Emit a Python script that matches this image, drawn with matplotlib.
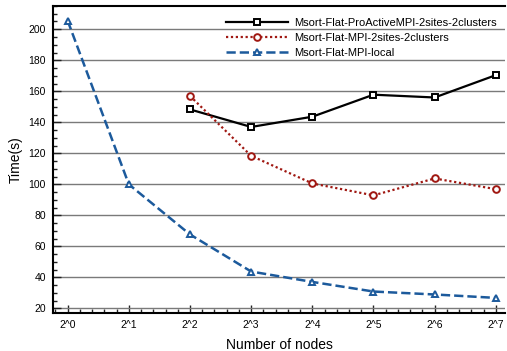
import numpy as np
import matplotlib
matplotlib.use('Agg')
import matplotlib.pyplot as plt
from matplotlib.ticker import MultipleLocator

plt.rcParams['font.family'] = ['Liberation Sans', 'DejaVu Sans']

# x positions are powers of two (exponent 0..7)
exps = [0, 1, 2, 3, 4, 5, 6, 7]
xlabels = ['2^0', '2^1', '2^2', '2^3', '2^4', '2^5', '2^6', '2^7']

proactive_x = [2, 3, 4, 5, 6, 7]
proactive = [148.3, 137, 143.6, 157.8, 156, 170.4]

mpi2_x = [2, 3, 4, 5, 6, 7]
mpi2 = [157, 118.4, 100.6, 92.9, 103.8, 96.9]

local_x = [0, 1, 2, 3, 4, 5, 6, 7]
local = [205.5, 100, 67.7, 43.8, 37.1, 30.9, 29, 26.8]

fig = plt.figure(figsize=(5.07, 3.51), dpi=100)
ax = fig.add_axes([0.1045, 0.108, 0.8915, 0.875])

ax.plot(proactive_x, proactive, color='black', linestyle='-', linewidth=1.6,
        marker='s', markersize=4.3, markerfacecolor='white', markeredgewidth=1.4,
        label='Msort-Flat-ProActiveMPI-2sites-2clusters', zorder=4)
ax.plot(mpi2_x, mpi2, color='#a01812', linestyle=(0, (1, 1.2)), linewidth=1.6,
        marker='o', markersize=4.8, markerfacecolor='white', markeredgewidth=1.4,
        label='Msort-Flat-MPI-2sites-2clusters', zorder=4)
ax.plot(local_x, local, color='#1c5a9c', linestyle='--', linewidth=1.8,
        marker='^', markersize=5, markerfacecolor='white', markeredgewidth=1.4,
        label='Msort-Flat-MPI-local', zorder=4)

ax.set_xlim(-0.24, 7.15)
ax.set_ylim(17, 215)
ax.set_xticks(exps)
ax.set_xticklabels(xlabels)
ax.xaxis.set_minor_locator(MultipleLocator(0.2))
ax.yaxis.set_major_locator(MultipleLocator(20))
ax.yaxis.set_minor_locator(MultipleLocator(5))
ax.tick_params(which='both', direction='in', top=False, right=False,
               labelsize=7.5, width=1.0, color='#222222')
ax.tick_params(which='major', length=6, pad=5)
ax.tick_params(which='minor', length=3)

ax.yaxis.grid(True, color='#7a7a7a', linewidth=1.0)
ax.set_axisbelow(True)

ax.spines['right'].set_visible(False)
for s in ['left', 'top', 'bottom']:
    ax.spines[s].set_linewidth(1.5)

ax.set_xlabel('Number of nodes', fontsize=10, labelpad=6)
ax.set_ylabel('Time(s)', fontsize=10, labelpad=4)

ax.legend(loc='upper right', bbox_to_anchor=(1.0, 0.985), frameon=False,
          fontsize=8, handlelength=5.6, handletextpad=0.6, labelspacing=0.42,
          borderaxespad=0.3)

fig.savefig('out.png', dpi=100)
